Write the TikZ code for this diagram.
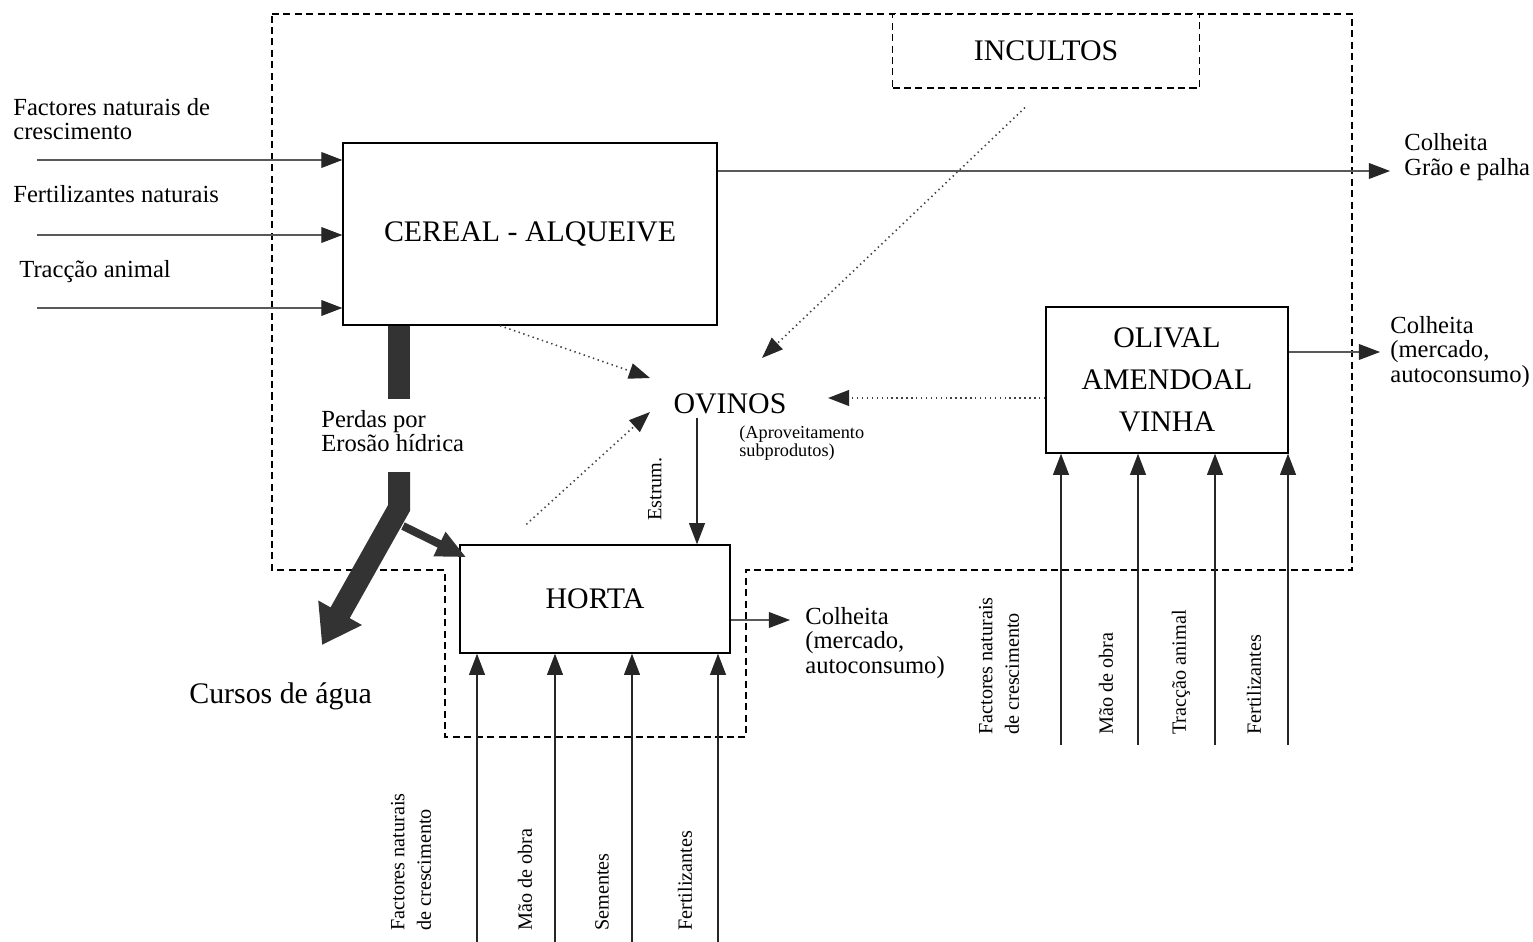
\documentclass[tikz,border=0pt]{standalone}
\usepackage{fontspec}
\setmainfont{Liberation Serif}
\usetikzlibrary{arrows.meta,calc}

\newcommand\fbig{\fontsize{17}{20}\selectfont}
\newcommand\flbl{\fontsize{14}{13.8}\selectfont}
\newcommand\fsml{\fontsize{10.4}{9.8}\selectfont}
\newcommand\frot{\fontsize{11.5}{15}\selectfont}

\begin{document}
\begin{tikzpicture}[x=0.02cm, y=-0.02cm,
    box/.style={draw, line width=0.8pt, align=center, font=\fbig},
    bound/.style={draw, line width=0.7pt, dash pattern=on 4pt off 2.5pt},
    lbl/.style={font=\flbl, align=left, anchor=west, inner sep=0pt},
    rot/.style={font=\frot, align=left, anchor=west, rotate=90, inner sep=0pt},
    arr/.style={-{Triangle[length=12pt, width=9pt, color=black!85]}, line width=0.8pt, black!85},
    inarr/.style={arr, line width=0.6pt, black!65},
    darr/.style={arr, dotted, line width=0.9pt, black!75},
    eros/.style={black!80, line join=miter}
]
\useasboundingbox (0,0) rectangle (1533,942);

\draw[bound] (272,14) -- (1352,14) -- (1352,570) -- (746,570) -- (746,737)
    -- (445,737) -- (445,570) -- (272,570) -- cycle;

\node[box, minimum width=7.48cm, minimum height=3.64cm] (cereal) at (530,234) {CEREAL - ALQUEIVE};
\node[box, minimum width=5.4cm, minimum height=2.16cm] (horta) at (595,599) {HORTA};
\node[box, minimum width=4.84cm, minimum height=2.92cm] (olival) at (1167,380) {OLIVAL\\[4pt]AMENDOAL\\[4pt]VINHA};
\node[box, bound, fill=white, minimum width=6.14cm, minimum height=1.48cm] (incultos) at (1046,51) {INCULTOS};
\node[font=\fbig, inner sep=2pt] (ovinos) at (730,404) {OVINOS};
\node[font=\fsml, align=left, anchor=west, inner sep=0pt] (aprov) at (739,443) {(Aproveitamento\\subprodutos)};

\node[lbl] (lfac) at (13,119) {Factores naturais de\\crescimento};
\node[lbl] (lfer) at (13,194) {Fertilizantes naturais};
\node[lbl] (ltra) at (19,272) {Tracção animal};
\node[lbl] (perdas) at (321,431) {Perdas por\\Erosão hídrica};
\node[lbl, font=\fbig] (cursos) at (189,696) {Cursos de água};
\node[lbl] (colc) at (1404,157) {Colheita\\Grão e palha};
\node[lbl] (colo) at (1390,352) {Colheita\\(mercado,\\autoconsumo)};
\node[lbl] (colh) at (805,643) {Colheita\\(mercado,\\autoconsumo)};

\node[rot] (ofac) at (999,735) {Factores naturais\\de crescimento};
\node[rot] (omao) at (1106,735) {Mão de obra};
\node[rot] (otra) at (1181,735) {Tracção animal};
\node[rot] (ofer) at (1254,735) {Fertilizantes};
\node[rot] (hfac) at (411,931) {Factores naturais\\de crescimento};
\node[rot] (hmao) at (525,931) {Mão de obra};
\node[rot] (hsem) at (602,931) {Sementes};
\node[rot] (hfer) at (685,931) {Fertilizantes};
\node[rot, anchor=center] (estrum) at (655,489) {Estrum.};

\coordinate (cin1) at (37,160);
\coordinate (cin2) at (37,235);
\coordinate (cin3) at (37,308);
\coordinate (cout) at (1390,171);
\coordinate (oout) at (1380,352);
\coordinate (hout) at (790,620);
\coordinate (oin1) at (1061,745);
\coordinate (oin2) at (1138,745);
\coordinate (oin3) at (1215,745);
\coordinate (oin4) at (1288,745);
\coordinate (hin1) at (477,942);
\coordinate (hin2) at (555,942);
\coordinate (hin3) at (632,942);
\coordinate (hin4) at (718,942);
\coordinate (ero) at (399,472);
\coordinate (fork) at (403,526);
\coordinate (agua) at (322,645);

\draw[inarr] (cin1) -- (cin1 -| cereal.west);
\draw[inarr] (cin2) -- (cin2 -| cereal.west);
\draw[inarr] (cin3) -- (cin3 -| cereal.west);
\draw[inarr] (cout -| cereal.east) -- (cout);
\draw[inarr] (oout -| olival.east) -- (oout);
\draw[inarr] (hout -| horta.east) -- (hout);
\draw[arr] (oin1) -- (oin1 |- olival.south);
\draw[arr] (oin2) -- (oin2 |- olival.south);
\draw[arr] (oin3) -- (oin3 |- olival.south);
\draw[arr] (oin4) -- (oin4 |- olival.south);
\draw[arr] (hin1) -- (hin1 |- horta.south);
\draw[arr] (hin2) -- (hin2 |- horta.south);
\draw[arr] (hin3) -- (hin3 |- horta.south);
\draw[arr] (hin4) -- (hin4 |- horta.south);

\draw[darr] ([shift={(-30,0)}]cereal.south) -- ([shift={(-80,-26)}]ovinos.center);
\draw[darr] ([shift={(-21,19)}]incultos.south) -- ([shift={(32,-46)}]ovinos.center);
\draw[darr] ([shift={(0,18)}]olival.west) -- ([shift={(98,-6)}]ovinos.center);
\draw[darr] ([shift={(67,-20)}]horta.north west) -- ([shift={(-80,8)}]ovinos.center);
\draw[arr] ([shift={(-33,0)}]ovinos.south) -- ([shift={(-33,0)}]ovinos.south |- horta.north);

\draw[eros, line width=0.44cm] ([shift={(-131,0)}]cereal.south) -- ++(0,73);
\draw[eros, line width=0.44cm, -{Triangle[length=0.74cm, width=0.95cm]}] (ero) -- ++(0,36) -- (agua);
\draw[eros, line width=0.16cm, -{Triangle[length=0.6cm, width=0.5cm]}] (fork) -- ([shift={(7,13)}]horta.north west);
\end{tikzpicture}
\end{document}
